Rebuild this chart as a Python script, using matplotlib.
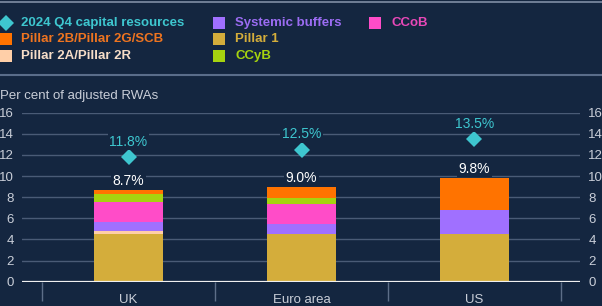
import numpy as np
import matplotlib.pyplot as plt
from matplotlib.patches import Rectangle
from matplotlib.lines import Line2D

plt.rcParams['font.family'] = ['Liberation Sans', 'DejaVu Sans']

regions = ['UK', 'Euro area', 'US']
pillar1 = [4.5, 4.5, 4.5]
pillar2a = [0.3, 0.0, 0.0]
systemic = [0.85, 0.95, 2.3]
ccob = [1.9, 1.95, 0.0]
ccyb = [0.8, 0.55, 0.0]
pillar2b = [0.35, 1.05, 3.0]
totals = [8.7, 9.0, 9.8]
capital = [11.8, 12.5, 13.5]

bg = '#142640'
grid_c = '#4a5b76'
tick_c = '#c9ced8'
cyan = '#3ec6cf'

segments = [
    ('Pillar 1', pillar1, '#d4ad3b', '#d4ad3b'),
    ('Pillar 2A/Pillar 2R', pillar2a, '#ffcfa8', '#f6ddc8'),
    ('Systemic buffers', systemic, '#a070ff', '#9b6cf2'),
    ('CCoB', ccob, '#ff4cc8', '#e848b8'),
    ('CCyB', ccyb, '#a6d30f', '#a6d30f'),
    ('Pillar 2B/Pillar 2G/SCB', pillar2b, '#ff7300', '#ee7420'),
]

W, H = 602, 306
fig = plt.figure(figsize=(W / 100, H / 100), dpi=100, facecolor=bg)
ax = fig.add_axes([22 / W, 1 - 281.7 / H, (580 - 22) / W, (281.7 - 112.7) / H])
ax.set_facecolor(bg)

x = np.arange(len(regions))
bottom = np.zeros(len(regions))
for name, vals, col, _ in segments:
    v = np.array(vals)
    ax.bar(x, v, width=0.4, bottom=bottom, color=col, zorder=3)
    bottom += v

ax.plot(x, capital, linestyle='none', marker='D', markersize=8,
        color=cyan, markeredgewidth=0, zorder=4)
for xi, c, t in zip(x, capital, totals):
    ax.annotate(f'{c:.1f}%', (xi, c), xytext=(0, 6), textcoords='offset points',
                ha='center', va='bottom', color=cyan, fontsize=10, zorder=5,
                bbox=dict(boxstyle='square,pad=0.1', fc=bg, ec='none'))
    ax.annotate(f'{t:.1f}%', (xi, t), xytext=(0, 1.5), textcoords='offset points',
                ha='center', va='bottom', color='white', fontsize=10, zorder=5,
                bbox=dict(boxstyle='square,pad=0.1', fc=bg, ec='none'))

ax.set_xlim(-0.616, 2.61)
ax.set_ylim(0, 16)
ax.set_yticks(range(0, 17, 2))
ax.yaxis.grid(True, color=grid_c, linewidth=1, zorder=0)
ax.axhline(0, color='#f0f0f0', linewidth=1.6, zorder=6)
for s in ax.spines.values():
    s.set_visible(False)

ax.set_xticks(x)
ax.set_xticklabels(regions)
ax.set_xticks([-0.5, 0.5, 1.5, 2.5], minor=True)
ax.tick_params(axis='x', which='major', length=0, pad=9, colors=tick_c, labelsize=9.5)
ax.tick_params(axis='x', which='minor', length=14, width=1, color='#5d6e88', direction='out')
ax.tick_params(axis='y', length=0, pad=6, colors=tick_c, labelsize=9.5,
               labelleft=True, labelright=True)

fig.text(0.0, 1 - 96 / H, 'Per cent of adjusted RWAs', color=tick_c,
         fontsize=9.5, ha='left', va='center')

# lines at the top and under the legend
fig.add_artist(Line2D([0, 1], [1 - 1.5 / H, 1 - 1.5 / H], color='#7f8ea6', linewidth=1.2))
fig.add_artist(Line2D([0, 1], [1 - 74.7 / H, 1 - 74.7 / H], color='#5a6d8a', linewidth=1.5))

# legend, placed by hand
rows = [22.7, 39.3, 56.0]
legend_layout = [
    ('2024 Q4 capital resources', 0, 0),
    ('Pillar 2B/Pillar 2G/SCB', 0, 1),
    ('Pillar 2A/Pillar 2R', 0, 2),
    ('Systemic buffers', 1, 0),
    ('Pillar 1', 1, 1),
    ('CCyB', 1, 2),
    ('CCoB', 2, 0),
]
col_sw = [0, 213, 369]
col_tx = [21, 235, 391]
lookup = {n: (fc, tc) for n, _, fc, tc in segments}
for label, c, r in legend_layout:
    yc = 1 - rows[r] / H
    if label.startswith('2024'):
        fig.add_artist(Line2D([6 / W], [yc], marker='D', markersize=8, color=cyan,
                              markeredgewidth=0, linestyle='none'))
        tcol = cyan
    else:
        fc, tcol = lookup[label]
        fig.add_artist(Rectangle((col_sw[c] / W, yc - 6 / H), 12 / W, 12 / H,
                                 facecolor=fc, edgecolor='none', transform=fig.transFigure))
    fig.text(col_tx[c] / W, yc, label, color=tcol, fontsize=9.5, fontweight='bold',
             ha='left', va='center')

fig.savefig('out.png', dpi=100, facecolor=bg)
